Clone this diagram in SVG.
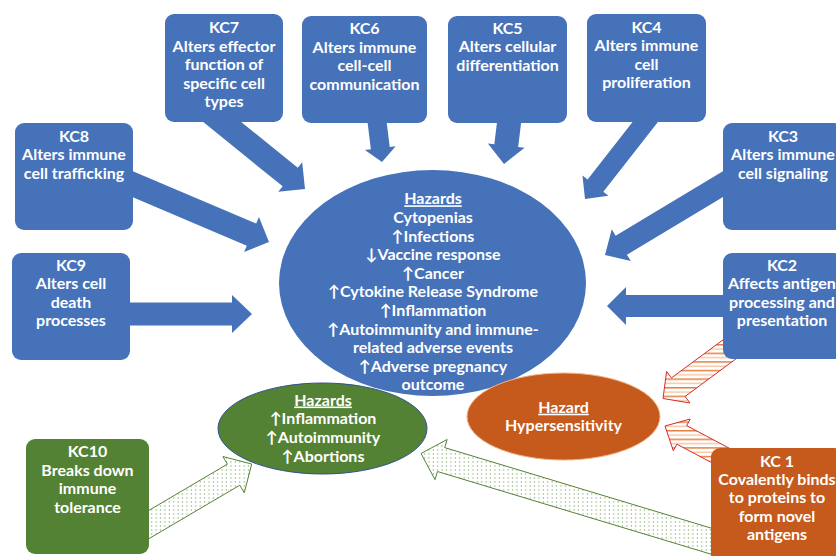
<svg xmlns="http://www.w3.org/2000/svg" width="836" height="556" viewBox="0 0 836 556">
<defs>
<style>
.box{fill:#4672B9;}
.org{fill:#C55A1C;}
.grn{fill:#548235;}
.blk{fill:#4672B9;}
.dot{fill:url(#dots);stroke:#548235;stroke-width:1;}
.str{fill:url(#stripes);stroke:#D42A2A;stroke-width:1;}
text{font-family:Lato,"Liberation Sans","DejaVu Sans",sans-serif;font-weight:bold;font-size:16px;fill:#FFFFFF;text-anchor:middle;}
.u{text-decoration:underline;}
</style>
<pattern id="dots" width="4.4" height="4" patternUnits="userSpaceOnUse">
<rect width="4.4" height="4" fill="#FFFFFF"/>
<rect x="1.6" y="1.4" width="1.1" height="1.1" fill="#6E9C4E"/>
</pattern>
<pattern id="stripes" width="8" height="8.6" patternUnits="userSpaceOnUse">
<rect width="8" height="8.6" fill="#FFFFFF"/>
<rect y="0" width="8" height="1.5" fill="#E2803F"/>
<rect y="4.3" width="8" height="1.5" fill="#F7C8A8"/>
</pattern>
</defs>
<rect width="836" height="556" fill="#FFFFFF"/>

<g id="connectors">
<polygon class="blk" points="196.45,116.52 282.69,186.37 278.29,191.81 305,189 302.19,162.29 297.79,167.73 211.55,97.88"/>
<polygon class="blk" points="117,190.55 246.82,245.63 244.09,252.07 269,242 258.93,217.09 256.2,223.53 126.39,168.45"/>
<polygon class="blk" points="120,302.5 232,302.5 232,295 252,314 232,333 232,325.5 120,325.5"/>
<polygon class="blk" points="365.25,103.56 370.86,149.26 364.9,149.99 382,162 395.68,146.21 389.72,146.94 384.11,101.24"/>
<polygon class="blk" points="499.34,102.97 494.32,144.18 487.87,143.39 504,164 524.61,147.87 518.16,147.08 523.18,105.87"/>
<polygon class="blk" points="644.88,106.16 587.59,179.44 582.47,175.44 585,199 608.47,195.76 603.35,191.76 660.64,118.48"/>
<polygon class="blk" points="727.88,168.32 615.61,235.78 611.75,229.36 605,255 630.81,261.06 626.95,254.64 739.22,187.18"/>
<polygon class="blk" points="730,295 626,295 626,287 607,306 626,325 626,317 730,317"/>
<polygon class="dot" points="145.8,540.5 239.8,485.2 244.27,492.77 251.7,464 222.93,456.57 227.4,464.15 133.4,519.5"/>
<polygon class="dot" points="730.81,534.04 444.71,447.61 447.17,439.47 421,453.5 435.03,479.67 437.49,471.53 723.59,557.96"/>
<polygon class="str" points="732.56,332.75 671.44,377.95 666.62,371.44 663,398.5 689.94,402.96 685.12,396.45 746.24,351.25"/>
<polygon class="str" points="731.72,449.53 686.7,425.64 690.22,419.02 665,426 673.34,450.8 676.86,444.18 721.88,468.07"/>
</g>

<g id="hazards-main">
<ellipse cx="432.5" cy="283" rx="153.5" ry="113" fill="#4672B9"/>
<text x="433" y="204.3" class="u">Hazards</text>
<text x="433" y="222.9">Cytopenias</text>
<text x="433" y="241.5">↑Infections</text>
<text x="433" y="260.1">↓Vaccine response</text>
<text x="433" y="278.7">↑Cancer</text>
<text x="433" y="297.3">↑Cytokine Release Syndrome</text>
<text x="433" y="315.9">↑Inflammation</text>
<text x="433" y="334.5">↑Autoimmunity and immune-</text>
<text x="433" y="353.1">related adverse events</text>
<text x="433" y="371.7">↑Adverse pregnancy</text>
<text x="433" y="390.3">outcome</text>
</g>

<g id="hazards-green">
<ellipse cx="322.5" cy="428.5" rx="104.5" ry="45.5" fill="#548235" stroke="#2F528F" stroke-width="1"/>
<text x="323" y="405.5" class="u">Hazards</text>
<text x="323" y="424.2">↑Inflammation</text>
<text x="323" y="442.9">↑Autoimmunity</text>
<text x="323" y="461.6">↑Abortions</text>
</g>

<g id="hazard-orange">
<ellipse cx="563.5" cy="416.5" rx="96.5" ry="43.5" fill="#C55A1C" stroke="#F2B48A" stroke-width="1"/>
<text x="563.5" y="412.7" class="u">Hazard</text>
<text x="563.5" y="431">Hypersensitivity</text>
</g>

<g id="kc7">
<rect class="box" x="165" y="14" width="118" height="108" rx="9"/>
<text x="224" y="33.3">KC7</text>
<text x="224" y="51.8">Alters effector</text>
<text x="224" y="70.3">function of</text>
<text x="224" y="88.8">specific cell</text>
<text x="224" y="107.3">types</text>
</g>
<g id="kc6">
<rect class="box" x="302" y="16" width="125" height="107" rx="9"/>
<text x="364.5" y="34.3">KC6</text>
<text x="364.5" y="52.8">Alters immune</text>
<text x="364.5" y="71.3">cell-cell</text>
<text x="364.5" y="89.8">communication</text>
</g>
<g id="kc5">
<rect class="box" x="448" y="16" width="119" height="107" rx="9"/>
<text x="507.5" y="33.5">KC5</text>
<text x="507.5" y="52">Alters cellular</text>
<text x="507.5" y="70.5">differentiation</text>
</g>
<g id="kc4">
<rect class="box" x="587" y="14" width="119" height="108" rx="9"/>
<text x="646.5" y="32.5">KC4</text>
<text x="646.5" y="51">Alters immune</text>
<text x="646.5" y="69.5">cell</text>
<text x="646.5" y="88">proliferation</text>
</g>
<g id="kc3">
<rect class="box" x="723" y="123" width="120" height="107" rx="9"/>
<text x="783" y="141.5">KC3</text>
<text x="783" y="160">Alters immune</text>
<text x="783" y="178.5">cell signaling</text>
</g>
<g id="kc8">
<rect class="box" x="15" y="123" width="118" height="107" rx="9"/>
<text x="74" y="141.5">KC8</text>
<text x="74" y="160">Alters immune</text>
<text x="74" y="178.5">cell trafficking</text>
</g>
<g id="kc9">
<rect class="box" x="12" y="253" width="118" height="107" rx="9"/>
<text x="71" y="270.7">KC9</text>
<text x="71" y="289.2">Alters cell</text>
<text x="71" y="307.7">death</text>
<text x="71" y="326.2">processes</text>
</g>
<g id="kc2">
<rect class="box" x="723" y="253" width="120" height="106" rx="9"/>
<text x="782" y="270.7">KC2</text>
<text x="782" y="289.2">Affects antigen</text>
<text x="782" y="307.7">processing and</text>
<text x="782" y="326.2">presentation</text>
</g>
<g id="kc1">
<rect class="org" x="711" y="448" width="132" height="120" rx="9"/>
<text x="777" y="466.5">KC 1</text>
<text x="777" y="484.9">Covalently binds</text>
<text x="777" y="503.3">to proteins to</text>
<text x="777" y="521.7">form novel</text>
<text x="777" y="540.1">antigens</text>
</g>
<g id="kc10">
<rect class="grn" x="26" y="439" width="123" height="115" rx="9"/>
<text x="87.5" y="457.3">KC10</text>
<text x="87.5" y="475.8">Breaks down</text>
<text x="87.5" y="494.3">immune</text>
<text x="87.5" y="512.8">tolerance</text>
</g>
</svg>
